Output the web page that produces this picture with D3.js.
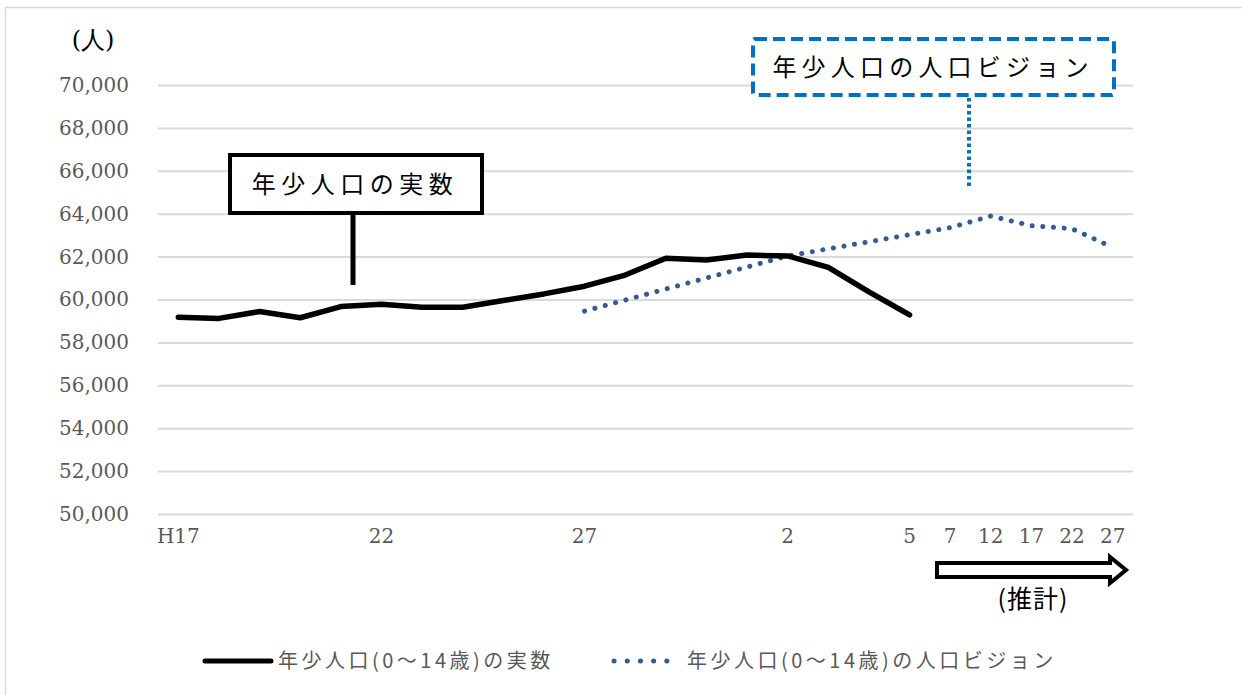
<!DOCTYPE html>
<html><head><meta charset="utf-8">
<script src="https://cdn.jsdelivr.net/npm/d3@7"></script>
<style>body{margin:0;background:#fff;}svg{display:block;}</style>
</head><body><svg id="c" width="1242" height="695"></svg>
<script>
// Categories: yearly 2005-2023, then projection years 2025..2045 (R7..R27)
const categories = ["2005","2006","2007","2008","2009","2010","2011","2012","2013","2014","2015","2016","2017","2018","2019","2020","2021","2022","2023","2025","2030","2035","2040","2045"];
const tickLabels = ["H17","","","","","22","","","","","27","","","","","2","","","5","7","12","17","22","27"];
const actualValues = [59170,59120,59440,59150,59670,59780,59640,59640,59950,60260,60620,61140,61920,61840,62070,62030,61500,60360,59280,null,null,null,null,null];
const visionValues = [null,null,null,null,null,null,null,null,null,null,59460,null,null,null,null,62030,null,null,null,63350,63890,63440,63300,62430];
const yTicks = [50000,52000,54000,56000,58000,60000,62000,64000,66000,68000,70000];
const legendLabels = ["年少人口(0～14歳)の実数","年少人口(0～14歳)の人口ビジョン"];
const calloutActual = "年少人口の実数";
const calloutVision = "年少人口の人口ビジョン";
const unitLabel = "(人)";
const projectionLabel = "(推計)";
const titleText = "【年少人口（0～14歳）の実数と人口ビジョンによる見込みの比較】";

const svg = d3.select("#c");
const serif = "'DejaVu Serif', 'Liberation Serif', serif";
const cjk = "'Noto Sans CJK JP', sans-serif";
const gray = "#595959";

// outer frame
svg.append("rect").attr("x",5.5).attr("y",7.5).attr("width",1260).attr("height",720)
  .attr("fill","#fff").attr("stroke","#d9d9d9").attr("stroke-width",1.5);
// title (cut off at the top edge, as in the source)
svg.append("text").attr("x",22).attr("y",-2).attr("font-family",cjk).attr("font-size",20)
  .attr("fill","#000").attr("letter-spacing",3).text(titleText);

const x = d3.scaleBand().domain(categories).range([158,1133]);
const cx = d => x(d) + x.bandwidth()/2;
const y = d3.scaleLinear().domain([50000,70000]).range([514,85]);

// gridlines
const grid = svg.append("g").attr("transform","translate(158,0)")
  .call(d3.axisLeft(y).tickValues(yTicks).tickSize(-975).tickFormat(""));
grid.select(".domain").remove();
grid.selectAll("line").attr("stroke","#d9d9d9").attr("stroke-width",2);

// y axis labels
const ya = svg.append("g").attr("transform","translate(158,0)")
  .call(d3.axisLeft(y).tickValues(yTicks).tickSize(0).tickPadding(29).tickFormat(d3.format(",")));
ya.select(".domain").remove();
ya.selectAll("text").attr("font-family",serif).attr("font-size",20).attr("fill",gray);

// x axis labels
const xa = svg.append("g").attr("transform","translate(0,514)")
  .call(d3.axisBottom(x).tickSize(0).tickPadding(15).tickFormat((d,i)=>tickLabels[i]));
xa.select(".domain").remove();
xa.selectAll("text").attr("font-family",serif).attr("font-size",20).attr("fill",gray);

// unit label
svg.append("text").attr("x",93).attr("y",48).attr("text-anchor","middle")
  .attr("font-family",serif).attr("font-size",24).attr("fill","#000").text(unitLabel);

// series
const actualPts = categories.map((c,i)=>[c,actualValues[i]]).filter(p=>p[1]!=null);
const visionPts = categories.map((c,i)=>[c,visionValues[i]]).filter(p=>p[1]!=null);
const line = d3.line().x(p=>cx(p[0])).y(p=>y(p[1]));

svg.append("path").attr("d",line(visionPts)).attr("fill","none")
  .attr("stroke","#335c94").attr("stroke-width",5).attr("stroke-linecap","round")
  .attr("stroke-dasharray","0.1 10.6");
svg.append("path").attr("d",line(actualPts)).attr("fill","none")
  .attr("stroke","#000").attr("stroke-width",5.5).attr("stroke-linecap","round").attr("stroke-linejoin","round");

// callout: actual
svg.append("line").attr("x1",353).attr("x2",353).attr("y1",214).attr("y2",285)
  .attr("stroke","#000").attr("stroke-width",5);
svg.append("rect").attr("x",230).attr("y",155).attr("width",252).attr("height",58)
  .attr("fill","#fff").attr("stroke","#000").attr("stroke-width",4);
svg.append("text").attr("x",355).attr("y",193).attr("text-anchor","middle")
  .attr("font-family",cjk).attr("font-size",24).attr("letter-spacing",5.5).attr("fill","#000").text(calloutActual);

// callout: vision
svg.append("line").attr("x1",969).attr("x2",969).attr("y1",98).attr("y2",187)
  .attr("stroke","#0070c0").attr("stroke-width",4).attr("stroke-dasharray","3.5 3");
svg.append("rect").attr("x",753).attr("y",39).attr("width",361).attr("height",56).attr("rx",2)
  .attr("fill","#fff").attr("stroke","#0070c0").attr("stroke-width",4).attr("stroke-dasharray","12 6");
svg.append("text").attr("x",933).attr("y",76).attr("text-anchor","middle")
  .attr("font-family",cjk).attr("font-size",24).attr("letter-spacing",5.2).attr("fill","#000").text(calloutVision);

// projection arrow
svg.append("path")
  .attr("d","M937,563 L1110,563 L1110,557 L1126,570 L1110,583 L1110,577 L937,577 Z")
  .attr("fill","#fff").attr("stroke","#000").attr("stroke-width",4).attr("stroke-linejoin","miter");
svg.append("text").attr("x",1033).attr("y",608).attr("text-anchor","middle")
  .attr("font-family",cjk).attr("font-size",25).attr("letter-spacing",1).attr("fill","#000").text(projectionLabel);

// legend
const lg = svg.append("g");
lg.append("line").attr("x1",205).attr("x2",271).attr("y1",661).attr("y2",661)
  .attr("stroke","#000").attr("stroke-width",5).attr("stroke-linecap","round");
lg.append("text").attr("x",278).attr("y",668).attr("font-family",cjk).attr("font-size",20)
  .attr("letter-spacing",3.5).attr("fill",gray).text(legendLabels[0]);
lg.append("line").attr("x1",614).attr("x2",680).attr("y1",661).attr("y2",661)
  .attr("stroke","#335c94").attr("stroke-width",5).attr("stroke-linecap","round").attr("stroke-dasharray","0.1 13.1");
lg.append("text").attr("x",687).attr("y",668).attr("font-family",cjk).attr("font-size",20)
  .attr("letter-spacing",3.5).attr("fill",gray).text(legendLabels[1]);
</script></body></html>
